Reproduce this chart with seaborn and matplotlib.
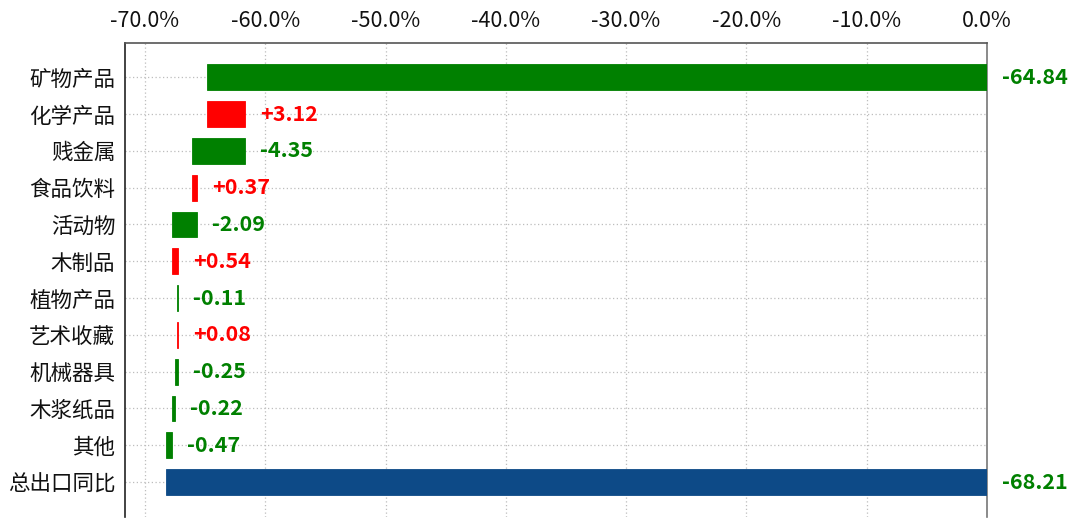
import numpy as np
import pandas as pd
import matplotlib
matplotlib.use("Agg")
import matplotlib.pyplot as plt
import seaborn as sns
from matplotlib.ticker import FuncFormatter

categories = ["矿物产品", "化学产品", "贱金属", "食品饮料", "活动物", "木制品",
              "植物产品", "艺术收藏", "机械器具", "木浆纸品", "其他", "总出口同比"]
changes = [-64.84, 3.12, -4.35, 0.37, -2.09, 0.54, -0.11, 0.08, -0.25, -0.22, -0.47]
total = -68.21
xticks = [-70, -60, -50, -40, -30, -20, -10, 0]

GREEN = "#008000"
RED = "#ff0000"
NAVY = "#0d4a87"

sns.set_style("white")
plt.rcParams["font.family"] = ["Noto Sans CJK SC", "DejaVu Sans"]

# waterfall geometry from data
ends = np.cumsum(changes)
starts = ends - np.array(changes)
widths = list(changes) + [total]
lefts = list(starts) + [0.0]
colors = [GREEN if c < 0 else RED for c in changes] + [NAVY]

df = pd.DataFrame({"cat": categories, "width": widths, "left": lefts})

fig = plt.figure(figsize=(10.8, 5.28), dpi=100)
ax = fig.add_axes([0.1157, 0.0208, 0.9139 - 0.1157, 0.9186 - 0.0208])

sns.barplot(data=df, x="width", y="cat", orient="h", left=df["left"].values,
            color=GREEN, width=0.7, ax=ax, zorder=3, linewidth=0)
for p, c in zip(ax.patches, colors):
    p.set_facecolor(c)
    p.set_edgecolor(c)
    p.set_linewidth(0.6)

ax.set_xlim(-71.66, 0)
ax.set_ylim(len(categories) - 1 + 0.95, -0.93)
ax.set_xlabel("")
ax.set_ylabel("")

ax.xaxis.tick_top()
ax.set_xticks(xticks)
ax.xaxis.set_major_formatter(FuncFormatter(lambda v, _: f"{v:.1f}%"))
ax.tick_params(axis="x", length=0, pad=8, labelsize=15.5, colors="#111111")
ax.tick_params(axis="y", length=0, pad=7, labelsize=15.5, colors="#111111")

ax.grid(True, axis="both", linestyle=(0, (1, 2)), color="#bdbdbd", linewidth=0.9, zorder=0)
ax.set_axisbelow(True)

ax.spines["bottom"].set_visible(False)
ax.spines["top"].set_color("#555555")
ax.spines["top"].set_linewidth(1.2)
ax.spines["left"].set_color("#222222")
ax.spines["left"].set_linewidth(1.2)
ax.spines["right"].set_color("#777777")
ax.spines["right"].set_linewidth(1.2)

# value labels
for i, c in enumerate(changes):
    right_edge = max(starts[i], ends[i])
    txt = f"+{c:.2f}" if c > 0 else f"{c:.2f}"
    ax.annotate(txt, xy=(right_edge, i), xytext=(11, 0), textcoords="offset points",
                ha="left", va="center", fontsize=15.5, fontweight="bold",
                color=RED if c > 0 else GREEN, annotation_clip=False)
ax.annotate(f"{total:.2f}", xy=(0, len(categories) - 1), xytext=(11, 0),
            textcoords="offset points", ha="left", va="center", fontsize=15.5,
            fontweight="bold", color=GREEN, annotation_clip=False)

fig.savefig("out.png", dpi=100)
